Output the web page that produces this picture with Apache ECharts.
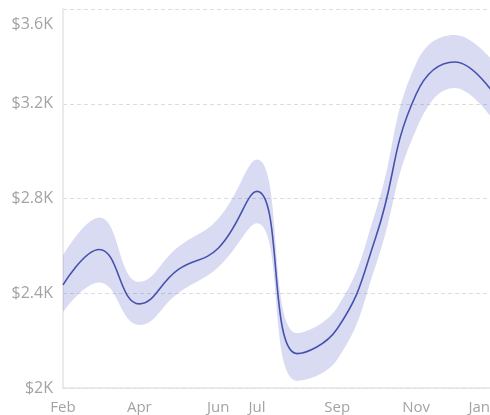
<!DOCTYPE html>
<html>
<head>
<meta charset="utf-8">
<script src="https://cdn.jsdelivr.net/npm/echarts@6/dist/echarts.min.js"></script>
<style>
  html, body { margin: 0; padding: 0; background: #fff; }
  #chart { width: 490px; height: 415px; }
</style>
</head>
<body>
<div id="chart"></div>
<script>
// Monthly observations (first day of each month)
const months = ['2023-02-01', '2023-03-01', '2023-04-01', '2023-05-01', '2023-06-01', '2023-07-01',
                '2023-08-01', '2023-09-01', '2023-10-01', '2023-11-01', '2023-12-01', '2024-01-01'];
const meanValues  = [2435, 2585, 2355, 2500, 2590, 2830, 2145, 2250, 2640, 3240, 3376, 3235];
const upperValues = [2560, 2720, 2448, 2595, 2715, 2965, 2232, 2340, 2750, 3370, 3490, 3370];
const lowerValues = [2320, 2445, 2266, 2400, 2510, 2695, 2030, 2120, 2520, 3090, 3266, 3120];

// Axis labels shown along the bottom
const tickDates  = ['2023-02-01', '2023-04-01', '2023-06-01', '2023-07-01', '2023-09-01', '2023-11-01', '2024-01-01'];
const tickLabels = ['Feb', 'Apr', 'Jun', 'Jul', 'Sep', 'Nov', 'Jan'];
const yTicks = [2000, 2400, 2800, 3200, 3600];

const DAY = 86400000;
const toTime = s => {
  const [y, m, d] = s.split('-').map(Number);
  return new Date(y, m - 1, d).getTime();
};
const times = months.map(toTime);
const tickTimes = tickDates.map(toTime);

const money = v => '$' + (v / 1000) + 'K';

const chart = echarts.init(document.getElementById('chart'), null, { renderer: 'canvas' });
chart.setOption({
  animation: false,
  textStyle: { fontFamily: '"Open Sans", sans-serif' },
  grid: { left: 63, right: -5, top: 9, bottom: 27, containLabel: false, outerBoundsMode: 'none' },
  xAxis: {
    type: 'time',
    min: tickTimes[0],
    max: tickTimes[tickTimes.length - 1],
    splitNumber: 11,
    minInterval: 28 * DAY,
    maxInterval: 31 * DAY,
    axisLine: { show: true, lineStyle: { color: '#e4e4e4', width: 1.5 } },
    axisTick: { show: false },
    splitLine: { show: false },
    axisLabel: {
      formatter: v => {
        const i = tickTimes.indexOf(v);
        if (i < 0) return '';
        return i === tickTimes.length - 1 ? '{last|' + tickLabels[i] + '}' : tickLabels[i];
      },
      rich: { last: { fontSize: 15, color: '#a3a3a3', padding: [0, 5, 0, 0] } },
      color: '#a3a3a3',
      fontSize: 15,
      margin: 12,
      alignMaxLabel: 'right',
      hideOverlap: false,
      showMinLabel: true,
      showMaxLabel: true
    }
  },
  yAxis: {
    type: 'value',
    min: yTicks[0],
    max: yTicks[yTicks.length - 1],
    interval: 400,
    axisLine: { show: true, lineStyle: { color: '#e4e4e4', width: 1.5 } },
    axisTick: { show: false },
    splitLine: { show: true, lineStyle: { color: '#dddddd', type: [4, 3], width: 1 } },
    axisLabel: {
      color: '#a3a3a3',
      fontSize: 16,
      margin: 10,
      formatter: v => v === yTicks[yTicks.length - 1] ? '{top|' + money(v) + '}' : money(v),
      rich: { top: { fontSize: 16, color: '#a3a3a3', padding: [30, 0, 0, 0] } }
    }
  },
  series: [
    {
      name: 'lower',
      type: 'line',
      stack: 'band',
      smooth: 0.45,
      symbol: 'none',
      silent: true,
      lineStyle: { opacity: 0 },
      data: times.map((t, i) => [t, lowerValues[i]])
    },
    {
      name: 'range',
      type: 'line',
      stack: 'band',
      smooth: 0.45,
      symbol: 'none',
      silent: true,
      lineStyle: { opacity: 0 },
      areaStyle: { color: 'rgba(62, 74, 190, 0.2)', opacity: 1 },
      data: times.map((t, i) => [t, upperValues[i] - lowerValues[i]])
    },
    {
      name: 'mean',
      type: 'line',
      smooth: 0.45,
      symbol: 'none',
      lineStyle: { color: '#4752ad', width: 1.6 },
      data: times.map((t, i) => [t, meanValues[i]]),
      z: 5
    }
  ]
});
</script>
</body>
</html>
